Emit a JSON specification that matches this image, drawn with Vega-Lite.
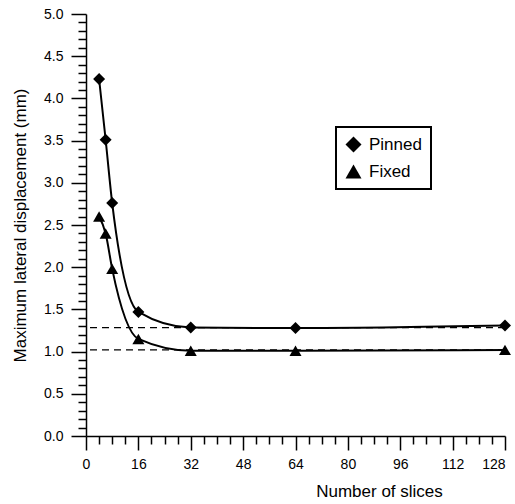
{
  "$schema": "https://vega.github.io/schema/vega-lite/v6.json",
  "width": 419,
  "height": 422,
  "autosize": {"type": "none"},
  "padding": {"left": 86, "top": 14, "right": 10, "bottom": 68},
  "background": "white",
  "datasets": {
    "main": [
      {"n": 4, "value": 4.23, "series": "Pinned"},
      {"n": 6, "value": 3.51, "series": "Pinned"},
      {"n": 8, "value": 2.76, "series": "Pinned"},
      {"n": 16, "value": 1.47, "series": "Pinned"},
      {"n": 32, "value": 1.285, "series": "Pinned"},
      {"n": 64, "value": 1.28, "series": "Pinned"},
      {"n": 128, "value": 1.31, "series": "Pinned"},
      {"n": 4, "value": 2.6, "series": "Fixed"},
      {"n": 6, "value": 2.4, "series": "Fixed"},
      {"n": 8, "value": 1.98, "series": "Fixed"},
      {"n": 16, "value": 1.15, "series": "Fixed"},
      {"n": 32, "value": 1.01, "series": "Fixed"},
      {"n": 64, "value": 1.01, "series": "Fixed"},
      {"n": 128, "value": 1.02, "series": "Fixed"}
    ],
    "refs": [
      {"value": 1.285, "series": "Pinned"},
      {"value": 1.02, "series": "Fixed"}
    ]
  },
  "resolve": {"axis": {"x": "independent", "y": "independent"}},
  "layer": [
    {
      "data": {"name": "main"},
      "mark": {"type": "point", "opacity": 0},
      "encoding": {
        "x": {
          "field": "n", "type": "quantitative",
          "scale": {"domain": [0, 128], "nice": false, "zero": false},
          "axis": {
            "orient": "bottom",
            "values": [4, 8, 12, 20, 24, 28, 36, 40, 44, 52, 56, 60, 68, 72, 76, 84, 88, 92, 100, 104, 108, 116, 120, 124],
            "tickSize": 8,
            "tickColor": "black",
            "tickWidth": 1.5,
            "labels": false,
            "domain": false,
            "title": null
          }
        },
        "y": {
          "field": "value", "type": "quantitative",
          "scale": {"domain": [0, 5], "nice": false, "zero": false},
          "axis": {
            "orient": "left",
            "values": [0.1, 0.2, 0.3, 0.4, 0.6, 0.7, 0.8, 0.9, 1.1, 1.2, 1.3, 1.4, 1.6, 1.7, 1.8, 1.9, 2.1, 2.2, 2.3, 2.4, 2.6, 2.7, 2.8, 2.9, 3.1, 3.2, 3.3, 3.4, 3.6, 3.7, 3.8, 3.9, 4.1, 4.2, 4.3, 4.4, 4.6, 4.7, 4.8, 4.9],
            "tickSize": 8,
            "tickColor": "black",
            "tickWidth": 1.5,
            "labels": false,
            "domain": false,
            "title": null
          }
        }
      }
    },
    {
      "data": {"name": "refs"},
      "mark": {"type": "rule", "color": "black", "strokeWidth": 1.3, "strokeDash": [7, 5]},
      "encoding": {
        "y": {"field": "value", "type": "quantitative", "scale": {"domain": [0, 5], "nice": false, "zero": false}, "axis": null}
      }
    },
    {
      "data": {"name": "main"},
      "mark": {"type": "line", "color": "black", "strokeWidth": 2, "interpolate": "monotone"},
      "encoding": {
        "x": {"field": "n", "type": "quantitative", "scale": {"domain": [0, 128], "nice": false, "zero": false}, "axis": null},
        "y": {"field": "value", "type": "quantitative", "scale": {"domain": [0, 5], "nice": false, "zero": false}, "axis": null},
        "detail": {"field": "series"}
      }
    },
    {
      "data": {"name": "main"},
      "mark": {"type": "point", "filled": true, "color": "black", "opacity": 1, "size": 144},
      "encoding": {
        "x": {
          "field": "n", "type": "quantitative",
          "scale": {"domain": [0, 128], "nice": false, "zero": false},
          "axis": {
            "orient": "bottom",
            "values": [0, 16, 32, 48, 64, 80, 96, 112, 128],
            "tickSize": 14,
            "labelPadding": 7,
            "labelFlush": false,
            "labelAlign": {"condition": {"test": "datum.value >= 128", "value": "right"}, "value": "center"},
            "title": "Number of slices",
            "titleX": 293,
            "titleAlign": "center",
            "titlePadding": 12
          }
        },
        "y": {
          "field": "value", "type": "quantitative",
          "scale": {"domain": [0, 5], "nice": false, "zero": false},
          "axis": {
            "orient": "left",
            "values": [0, 0.5, 1, 1.5, 2, 2.5, 3, 3.5, 4, 4.5, 5],
            "format": ".1f",
            "tickSize": 15,
            "labelPadding": 8,
            "labelFlush": false,
            "title": "Maximum lateral displacement (mm)",
            "titlePadding": 14
          }
        },
        "shape": {
          "field": "series", "type": "nominal",
          "scale": {"domain": ["Pinned", "Fixed"], "range": ["diamond", "triangle-up"]},
          "legend": {
            "title": null,
            "orient": "none",
            "legendX": 250,
            "legendY": 113,
            "strokeColor": "black",
            "padding": 9,
            "rowPadding": 9,
            "labelOffset": 7,
            "symbolSize": 256,
            "symbolFillColor": "black",
            "symbolStrokeColor": "black",
            "symbolStrokeWidth": 0,
            "labelFontSize": 17,
            "labelFont": "Liberation Sans",
            "labelColor": "black",
            "fillColor": "white"
          }
        }
      }
    }
  ],
  "config": {
    "view": {"stroke": null},
    "font": "Liberation Sans",
    "axis": {
      "grid": false,
      "labelOverlap": false,
      "domainColor": "black",
      "domainWidth": 1.5,
      "tickColor": "black",
      "tickWidth": 1.5,
      "labelFont": "Liberation Sans",
      "labelFontSize": 14,
      "labelColor": "black",
      "titleFont": "Liberation Sans",
      "titleFontSize": 17,
      "titleFontWeight": "normal",
      "titleColor": "black"
    },
    "legend": {"strokeWidth": 2}
  }
}
